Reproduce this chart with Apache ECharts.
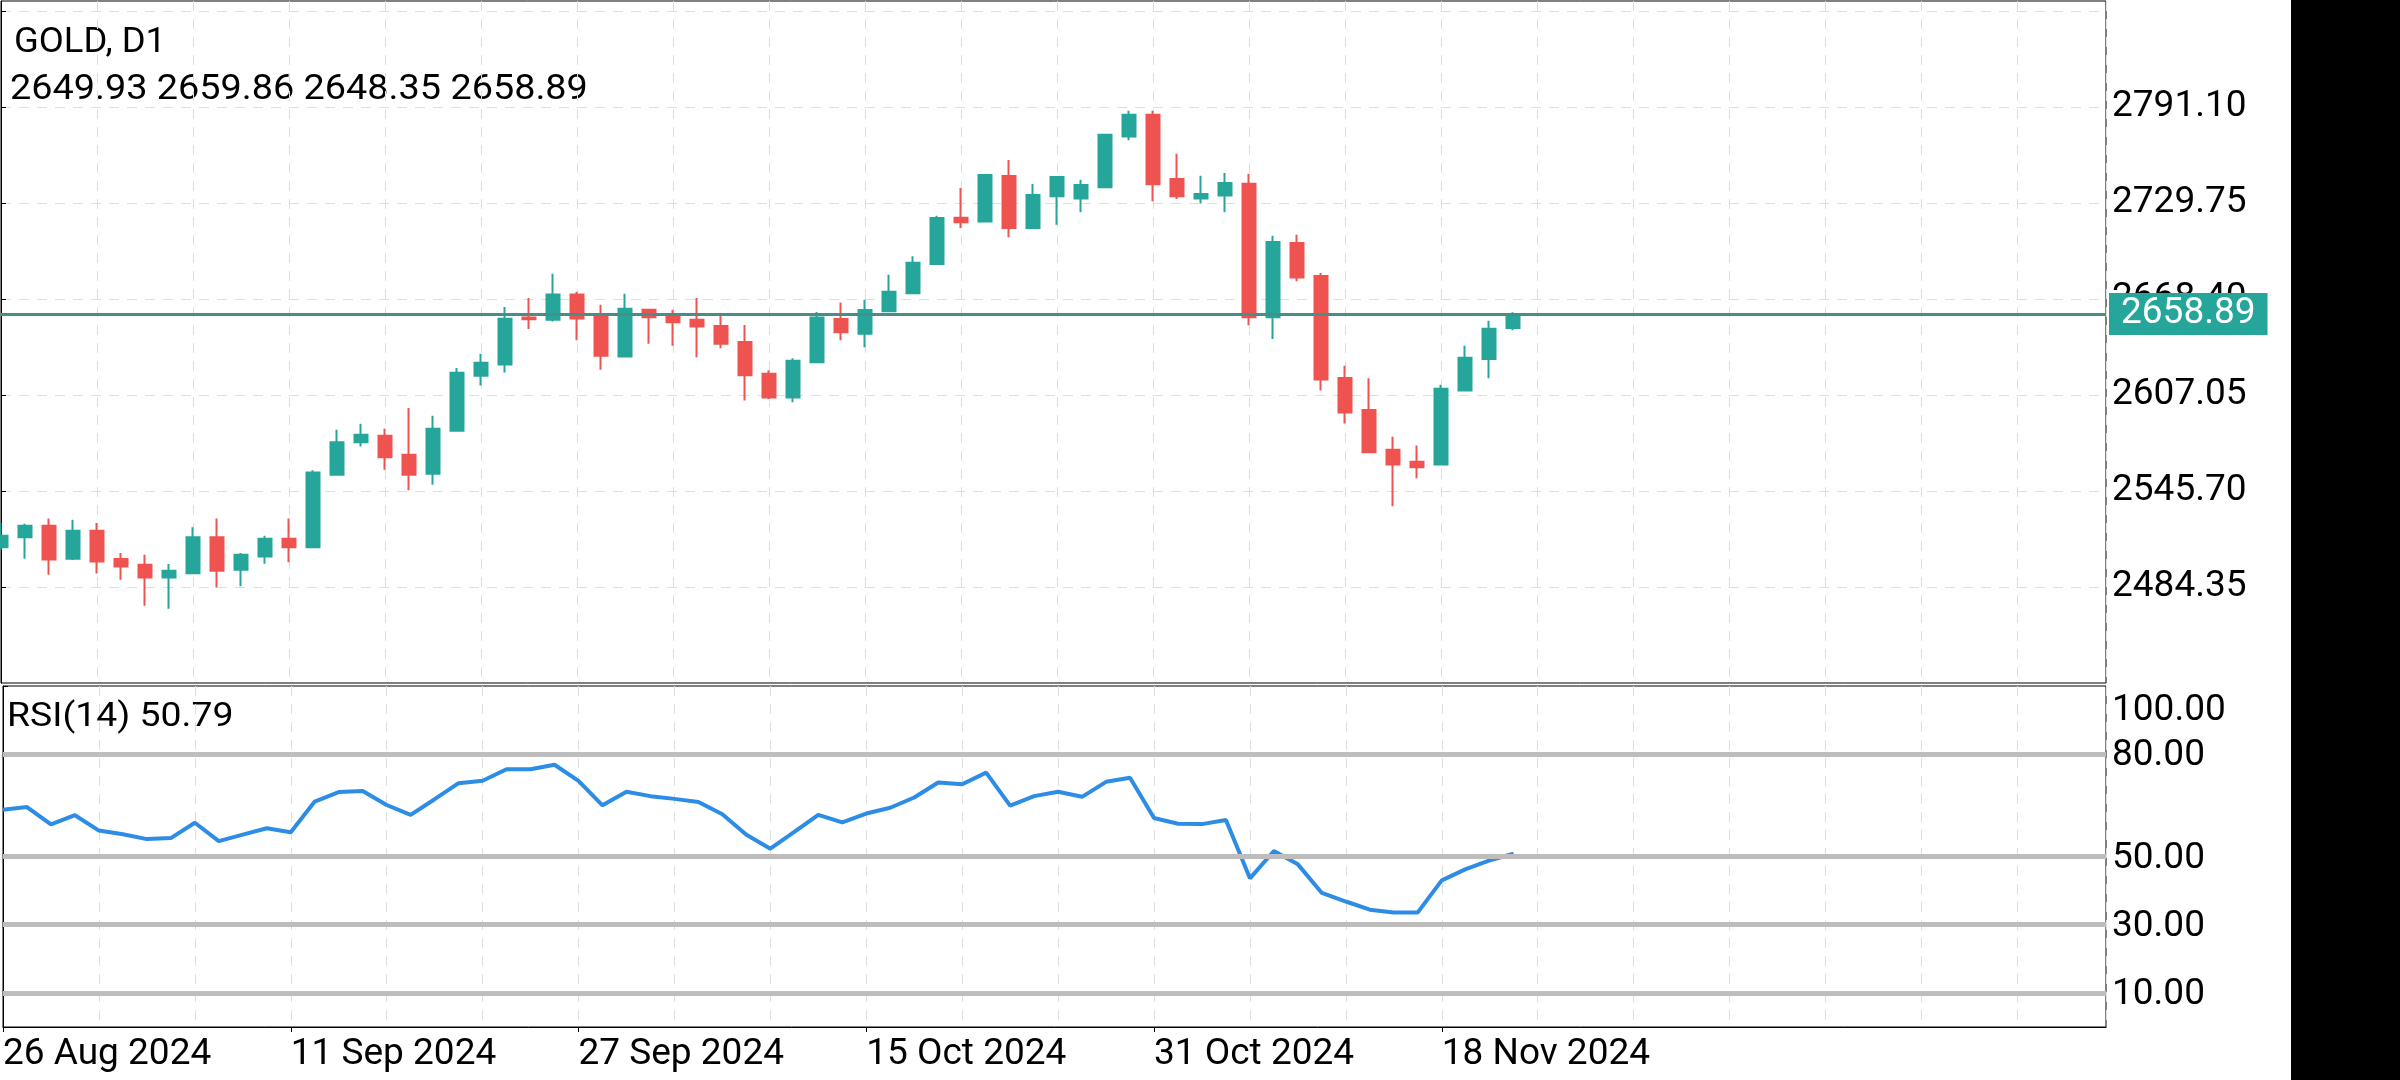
<!DOCTYPE html>
<html><head><meta charset="utf-8">
<script src="https://cdn.jsdelivr.net/npm/echarts@6/dist/echarts.min.js"></script>
<style>html,body{margin:0;padding:0;background:#fff}#c{width:2400px;height:1080px}</style>
</head><body><div id="c"></div>
<script>
const dates = ['26 Aug 2024','27 Aug 2024','28 Aug 2024','29 Aug 2024','30 Aug 2024',
'2 Sep 2024','3 Sep 2024','4 Sep 2024','5 Sep 2024','6 Sep 2024',
'9 Sep 2024','10 Sep 2024','11 Sep 2024','12 Sep 2024','13 Sep 2024',
'16 Sep 2024','17 Sep 2024','18 Sep 2024','19 Sep 2024','20 Sep 2024',
'23 Sep 2024','24 Sep 2024','25 Sep 2024','26 Sep 2024','27 Sep 2024',
'30 Sep 2024','1 Oct 2024','2 Oct 2024','3 Oct 2024','4 Oct 2024',
'7 Oct 2024','8 Oct 2024','9 Oct 2024','10 Oct 2024','11 Oct 2024',
'14 Oct 2024','15 Oct 2024','16 Oct 2024','17 Oct 2024','18 Oct 2024',
'21 Oct 2024','22 Oct 2024','23 Oct 2024','24 Oct 2024','25 Oct 2024',
'28 Oct 2024','29 Oct 2024','30 Oct 2024','31 Oct 2024','1 Nov 2024',
'4 Nov 2024','5 Nov 2024','6 Nov 2024','7 Nov 2024','8 Nov 2024',
'11 Nov 2024','12 Nov 2024','13 Nov 2024','14 Nov 2024','15 Nov 2024',
'18 Nov 2024','19 Nov 2024','20 Nov 2024','21 Nov 2024'];
const opens = [2509.7,2516.1,2523.5,2502.4,2520.3,2502.2,2498.6,2490.5,2493.1,2516.1,
2495.4,2503.9,2515.2,2509.7,2556.1,2576.8,2581.0,2568.9,2556.8,2584.2,
2619.4,2626.6,2656.5,2655.2,2671.2,2657.1,2631.7,2661.6,2658.2,2655.2,
2651.1,2640.9,2620.7,2605.5,2627.9,2655.6,2646.2,2660.5,2672.0,2690.8,
2720.4,2718.0,2747.0,2713.8,2734.0,2732.7,2739.8,2772.3,2786.2,2745.1,
2732.7,2734.6,2742.1,2656.7,2704.2,2683.1,2617.9,2597.4,2572.1,2564.4,
2562.7,2610.0,2630.0,2649.93];
const highs = [2525.2,2524.8,2528.2,2527.4,2525.2,2506.1,2505.0,2499.0,2522.5,2528.2,
2506.1,2517.1,2528.2,2558.9,2584.9,2588.7,2585.5,2598.7,2593.8,2624.3,
2633.4,2663.3,2669.0,2684.6,2673.1,2664.8,2671.8,2662.0,2661.6,2669.0,
2657.7,2651.8,2622.8,2630.5,2660.1,2666.2,2667.9,2683.9,2695.7,2721.6,
2739.3,2748.2,2757.2,2741.9,2746.8,2744.6,2774.0,2788.7,2788.7,2761.3,
2747.2,2748.9,2748.5,2708.9,2709.5,2685.0,2625.8,2617.7,2580.4,2574.7,
2613.6,2638.6,2654.5,2659.86];
const lows = [2508.0,2502.4,2492.2,2501.6,2492.9,2489.0,2472.4,2470.5,2492.5,2484.1,
2484.8,2499.2,2500.1,2509.2,2555.7,2574.2,2559.3,2546.1,2549.7,2583.8,
2613.2,2621.5,2649.2,2654.1,2642.0,2623.2,2631.1,2639.8,2638.6,2631.1,
2636.9,2603.6,2604.5,2602.4,2627.5,2642.0,2637.5,2659.9,2671.6,2690.3,
2713.8,2717.6,2707.8,2713.4,2715.9,2723.8,2739.4,2769.8,2730.8,2732.3,
2729.5,2723.8,2651.6,2642.8,2679.7,2610.0,2588.9,2570.0,2535.9,2553.8,
2562.2,2609.6,2617.7,2648.35];
const closes = [2517.1,2523.5,2502.0,2520.3,2500.7,2497.5,2490.5,2494.8,2516.1,2494.8,
2505.0,2515.2,2509.7,2557.6,2576.8,2581.7,2567.2,2556.1,2585.5,2621.3,
2627.7,2655.8,2655.4,2671.2,2656.0,2632.2,2662.2,2656.7,2653.5,2650.9,
2639.8,2619.6,2605.5,2629.0,2656.5,2647.1,2661.4,2673.1,2691.6,2720.2,
2717.4,2747.6,2713.8,2734.9,2746.4,2741.2,2773.4,2786.2,2741.7,2734.0,
2735.5,2742.5,2656.7,2704.8,2682.2,2617.0,2595.9,2570.4,2562.7,2560.8,
2611.1,2630.9,2649.4,2658.89];
const rsi = [63.7,64.5,59.4,62.1,57.6,56.5,55.1,55.4,59.9,54.5,
56.4,58.3,57.1,66.1,68.9,69.2,65.1,62.2,66.8,71.5,
72.2,75.6,75.6,76.9,72.2,65.0,69.0,67.7,66.9,66.0,
62.4,56.4,52.3,57.2,62.2,60.0,62.6,64.3,67.3,71.7,
71.2,74.6,64.9,67.7,69.0,67.5,71.9,73.1,61.3,59.6,
59.5,60.7,43.6,51.6,47.7,39.3,36.8,34.4,33.6,33.6,
43.0,46.3,48.9,50.79];
const priceLabels = [2484.35, 2545.70, 2607.05, 2668.40, 2729.75, 2791.10];
const priceGridTicks = [2484.35, 2545.70, 2607.05, 2668.40, 2729.75, 2791.10, 2852.45];
const rsiLabels = [10, 30, 50, 80, 100];
const rsiTickVals = [0, 10, 30, 50, 80, 100];
const rsiLevels = [10, 30, 50, 80];
const dateTickIdx = [0, 12, 24, 36, 48, 60];
const lastPrice = 2658.89;
const symbolTitle = 'GOLD, D1';
const ohlcText = '2649.93 2659.86 2648.35 2658.89';
const rsiTitle = 'RSI(14) 50.79';

const GREEN = '#26a69a', RED = '#ef5350';
const FONT = 'Roboto';
const LBL = 37;
const gridDash = {color: '#dedede', width: 1, type: [10, 8]};

const candleData = dates.map((d, i) => [i, opens[i], closes[i], lows[i], highs[i]]);
const rsiData = dates.map((d, i) => [i, rsi[i]]);

const chart = echarts.init(document.getElementById('c'), null, {renderer: 'canvas'});
const xBase = {type: 'value', min: 0, max: 87.7, interval: 4, axisLine: {show: false}, axisTick: {show: false}, axisLabel: {show: false}, splitLine: {show: true, lineStyle: gridDash}};
chart.setOption({
  animation: false,
  backgroundColor: '#ffffff',
  textStyle: {fontFamily: FONT},
  grid: [
    {left: 1, top: 1, width: 2105, height: 682, show: true, borderColor: '#000', borderWidth: 1, backgroundColor: 'rgba(0,0,0,0)'},
    {left: 1, top: 686, width: 2105, height: 341, show: true, borderColor: '#000', borderWidth: 1, backgroundColor: 'rgba(0,0,0,0)'}
  ],
  xAxis: [
    Object.assign({gridIndex: 0}, xBase),
    Object.assign({gridIndex: 1}, xBase),
    {gridIndex: 1, type: 'value', min: 0, max: 87.7, interval: 12, position: 'bottom',
     axisLine: {show: true, lineStyle: {color: '#000', width: 1}},
     axisTick: {show: true, length: 5, customValues: dateTickIdx, lineStyle: {color: '#000'}},
     axisLabel: {show: true, customValues: dateTickIdx, formatter: v => dates[v] || '', align: 'left', fontSize: LBL, fontFamily: FONT, color: '#000', margin: 9},
     splitLine: {show: false}}
  ],
  yAxis: [
    {gridIndex: 0, type: 'value', position: 'right', min: 2423.0, max: 2858.84,
     axisLine: {show: true, lineStyle: {color: '#000', width: 1}},
     axisTick: {show: true, length: 5, customValues: priceGridTicks, lineStyle: {color: '#000'}},
     axisLabel: {show: true, customValues: priceLabels, formatter: v => v.toFixed(2), fontSize: LBL, fontFamily: FONT, color: '#000', margin: 6, padding: [6, 0, 0, 0]},
     splitLine: {show: true, lineStyle: gridDash}},
    {gridIndex: 1, type: 'value', position: 'right', min: 0, max: 100,
     axisLine: {show: true, lineStyle: {color: '#000', width: 1}},
     axisTick: {show: true, length: 5, customValues: rsiTickVals, lineStyle: {color: '#000'}},
     axisLabel: {show: true, customValues: rsiLabels, fontSize: LBL, fontFamily: FONT, color: '#000', margin: 6, padding: [4, 0, 0, 0],
       formatter: v => v === 100 ? '{top|' + v.toFixed(2) + '}' : v.toFixed(2),
       rich: {top: {fontSize: LBL, fontFamily: FONT, color: '#000', padding: [46, 0, 0, 0]}}},
     splitLine: {show: false}}
  ],
  series: [
    {type: 'candlestick', name: 'GOLD', xAxisIndex: 0, yAxisIndex: 0, data: candleData, barWidth: 14,
     itemStyle: {color: GREEN, color0: RED, borderColor: GREEN, borderColor0: RED, borderWidth: 2},
     markLine: {silent: true, symbol: 'none', animation: false,
       data: [{yAxis: lastPrice}],
       lineStyle: {color: '#4a8c86', width: 3, type: 'solid'},
       label: {show: true, position: 'end', distance: 3, formatter: lastPrice.toFixed(2), color: '#ffffff', backgroundColor: GREEN,
               fontSize: LBL, fontFamily: FONT, padding: [3, 12, 2, 12]}}},
    {type: 'line', name: 'RSI', xAxisIndex: 1, yAxisIndex: 1, data: rsiData, showSymbol: false, symbol: 'none',
     lineStyle: {color: '#2d8ce6', width: 4}, z: 3,
     markLine: {silent: true, symbol: 'none', animation: false,
       data: rsiLevels.map(v => ({yAxis: v})),
       lineStyle: {color: '#bdbdbd', width: 5, type: 'solid'}, label: {show: false}}}
  ],
  graphic: [
    {type: 'rect', shape: {x: 2291, y: 0, width: 109, height: 1080}, style: {fill: '#000'}, silent: true},
    {type: 'text', x: 14, y: 43, scaleX: 1.04, style: {text: symbolTitle, fontSize: 35, fontFamily: FONT, fill: '#000', verticalAlign: 'middle', textVerticalAlign: 'middle'}},
    {type: 'text', x: 10, y: 90, scaleX: 1.08, style: {text: ohlcText, fontSize: 35, fontFamily: FONT, fill: '#000', verticalAlign: 'middle', textVerticalAlign: 'middle'}},
    {type: 'text', x: 7, y: 717, scaleX: 1.1, style: {text: rsiTitle, fontSize: 34, fontFamily: FONT, fill: '#000', verticalAlign: 'middle', textVerticalAlign: 'middle'}}
  ]
});
</script></body></html>
